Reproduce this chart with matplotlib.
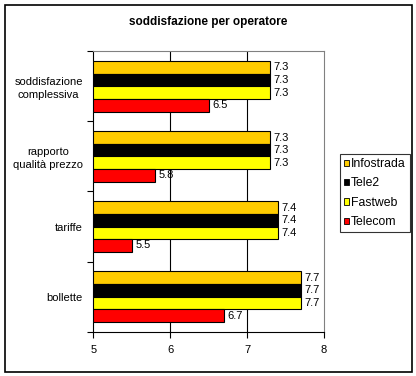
import matplotlib
matplotlib.use("Agg")
import matplotlib.pyplot as plt
from matplotlib.patches import Rectangle, Patch
import numpy as np

plt.rcParams['font.family'] = ['Liberation Sans', 'DejaVu Sans']

categories = ["soddisfazione\ncomplessiva", "rapporto\nqualità prezzo", "tariffe", "bollette"]
series_names = ["Infostrada", "Tele2", "Fastweb", "Telecom"]
infostrada = [7.3, 7.3, 7.4, 7.7]
tele2 = [7.3, 7.3, 7.4, 7.7]
fastweb = [7.3, 7.3, 7.4, 7.7]
telecom = [6.5, 5.8, 5.5, 6.7]
colors = ["#FFCC00", "#000000", "#FFFF00", "#FF0000"]
x_ticks = [5, 6, 7, 8]

W, H = 416, 376
fig = plt.figure(figsize=(W / 100, H / 100), dpi=100)
fig.patch.set_facecolor("white")

def fx(px):
    return px / W

def fy(py):
    return 1 - py / H

ax = fig.add_axes([fx(93.3), fy(331.7), fx(324) - fx(93.3), fy(51.3) - fy(331.7)])

all_series = [infostrada, tele2, fastweb, telecom]
h = 0.18
centers = np.arange(len(categories)) + 0.5
for j, (vals, col, name) in enumerate(zip(all_series, colors, series_names)):
    ys = centers + (j - 1.5) * h
    ax.barh(ys, np.array(vals) - 5, left=5, height=h, color=col,
            edgecolor="black", linewidth=0.8, label=name, zorder=3)
    for y, v in zip(ys, vals):
        ax.annotate(f"{v:.1f}", xy=(v, y), xytext=(2.5, 0), textcoords="offset points",
                    ha="left", va="center", fontsize=8, zorder=4)

ax.set_xlim(5, 8)
ax.set_ylim(len(categories), 0)
ax.set_xticks(x_ticks)
ax.set_xticklabels([str(t) for t in x_ticks], fontsize=8)
ax.tick_params(axis="x", direction="out", length=4, width=0.8, pad=5.5)

ax.set_yticks(np.arange(len(categories) + 1))
ax.set_yticklabels([])
ax.tick_params(axis="y", which="major", direction="out", length=4, width=0.8)
ax.set_yticks(centers, minor=True)
ax.set_yticklabels(categories, minor=True, fontsize=8)
ax.tick_params(axis="y", which="minor", length=0, pad=7.5)
for t in ax.get_yticklabels(minor=True):
    t.set_multialignment("center")
    t.set_linespacing(1.3)

for gx in [6, 7]:
    ax.axvline(gx, color="black", linewidth=0.8, zorder=1)

ax.spines["left"].set_color("black")
ax.spines["bottom"].set_color("black")
ax.spines["top"].set_color("#808080")
ax.spines["right"].set_color("#808080")
for s in ax.spines.values():
    s.set_linewidth(0.8)

fig.text(fx(208), fy(22), "soddisfazione per operatore", ha="center", va="center",
         fontsize=8.5, fontweight="bold")

handles = [Patch(facecolor=c, edgecolor="black", linewidth=0.6) for c in colors]
leg = fig.legend(handles, series_names, loc="upper left",
                 bbox_to_anchor=(fx(340), fy(154)), fontsize=8.8, frameon=True,
                 fancybox=False, handlelength=0.42, handleheight=0.42,
                 handletextpad=0.15, labelspacing=0.6, borderpad=0.34,
                 borderaxespad=0)
leg.get_frame().set_edgecolor("black")
leg.get_frame().set_linewidth(0.8)

fig.patches.append(Rectangle((fx(5), fy(371.7)), fx(412) - fx(5), fy(5) - fy(371.7),
                             transform=fig.transFigure, fill=False, edgecolor="black",
                             linewidth=1.2))

fig.savefig("out.png", dpi=100)
